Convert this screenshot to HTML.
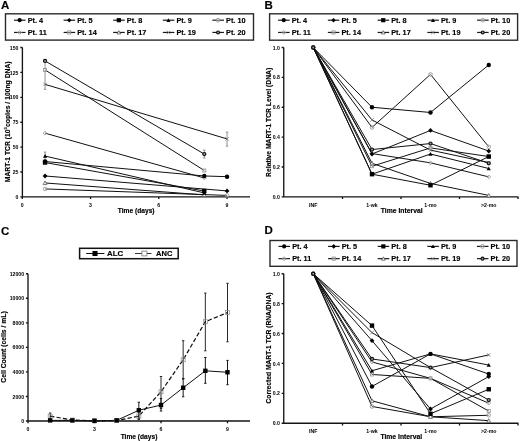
<!DOCTYPE html>
<html lang="en"><head><meta charset="utf-8"><title>Figure</title>
<style>html,body{margin:0;padding:0;background:#fff}body{width:520px;height:441px;overflow:hidden}svg{display:block;filter:blur(0.5px)}text{font-family:"Liberation Sans",sans-serif;font-weight:bold}</style>
</head><body>
<svg width="520" height="441" viewBox="0 0 520 441">
<rect width="520" height="441" fill="#fff"/>
<g id="panelA">
<text x="1.0" y="9.1" font-size="11.5" text-anchor="start"  fill="#000" stroke="#000" stroke-width="0.15" >A</text>
<rect x="5.5" y="13.8" width="248" height="26.3" fill="#fff" stroke="#2a2a2a" stroke-width="1.4"/>
<path d="M14.00 20.20H25.55" stroke="#1a1a1a" stroke-width="1.2" fill="none"/>
<circle cx="19.65" cy="20.2" r="2.09" fill="#000"/>
<text x="27.65" y="22.75" font-size="7.3" text-anchor="start"  fill="#000" stroke="#000" stroke-width="0.15" >Pt. 4</text>
<path d="M63.60 20.20H75.15" stroke="#1a1a1a" stroke-width="1.2" fill="none"/>
<path d="M66.97 20.2L69.25 17.92L71.53 20.2L69.25 22.48Z" fill="#000"/>
<text x="77.25" y="22.75" font-size="7.3" text-anchor="start"  fill="#000" stroke="#000" stroke-width="0.15" >Pt. 5</text>
<path d="M113.20 20.20H124.75" stroke="#1a1a1a" stroke-width="1.2" fill="none"/>
<rect x="116.76" y="18.11" width="4.18" height="4.18" fill="#000"/>
<text x="126.85" y="22.75" font-size="7.3" text-anchor="start"  fill="#000" stroke="#000" stroke-width="0.15" >Pt. 8</text>
<path d="M162.80 20.20H174.35" stroke="#1a1a1a" stroke-width="1.2" fill="none"/>
<path d="M166.45 21.90L168.45 18.20L170.44 21.90Z" fill="#000"/>
<text x="176.45" y="22.75" font-size="7.3" text-anchor="start"  fill="#000" stroke="#000" stroke-width="0.15" >Pt. 9</text>
<path d="M212.40 20.20H223.95" stroke="#1a1a1a" stroke-width="1.2" fill="none"/>
<circle cx="218.05" cy="20.2" r="1.89" fill="#fff" fill-opacity="0.35" stroke="#8c8c8c" stroke-width="0.8"/>
<text x="226.05" y="22.75" font-size="7.3" text-anchor="start"  fill="#000" stroke="#000" stroke-width="0.15" >Pt. 10</text>
<path d="M14.00 32.45H25.55" stroke="#1a1a1a" stroke-width="1.2" fill="none"/>
<path d="M17.65 32.45L19.65 30.46L21.64 32.45L19.65 34.45Z" fill="#fff" fill-opacity="0.35" stroke="#8c8c8c" stroke-width="0.8"/>
<text x="27.65" y="35.0" font-size="7.3" text-anchor="start"  fill="#000" stroke="#000" stroke-width="0.15" >Pt. 11</text>
<path d="M63.60 32.45H75.15" stroke="#1a1a1a" stroke-width="1.2" fill="none"/>
<rect x="67.67" y="30.88" width="3.15" height="3.15" fill="#fff" fill-opacity="0.35" stroke="#8c8c8c" stroke-width="0.8"/>
<text x="77.25" y="35.0" font-size="7.3" text-anchor="start"  fill="#000" stroke="#000" stroke-width="0.15" >Pt. 14</text>
<path d="M113.20 32.45H124.75" stroke="#1a1a1a" stroke-width="1.2" fill="none"/>
<path d="M117.04 33.98L118.85 30.65L120.66 33.98Z" fill="#fff" stroke="#555" stroke-width="0.8"/>
<text x="126.85" y="35.0" font-size="7.3" text-anchor="start"  fill="#000" stroke="#000" stroke-width="0.15" >Pt. 17</text>
<path d="M162.80 32.45H174.35" stroke="#1a1a1a" stroke-width="1.2" fill="none"/>
<path d="M166.66 30.67L170.23 34.23M166.66 34.23L170.23 30.67" fill="none" stroke="#777" stroke-width="0.8"/>
<text x="176.45" y="35.0" font-size="7.3" text-anchor="start"  fill="#000" stroke="#000" stroke-width="0.15" >Pt. 19</text>
<path d="M212.40 32.45H223.95" stroke="#1a1a1a" stroke-width="1.2" fill="none"/>
<circle cx="218.05" cy="32.45" r="1.47" fill="#999" stroke="#111" stroke-width="1.2"/>
<text x="226.05" y="35.0" font-size="7.3" text-anchor="start"  fill="#000" stroke="#000" stroke-width="0.15" >Pt. 20</text>
<path d="M22.4 47.5V196.9H250M20.299999999999997 196.9H22.4M20.299999999999997 172.0H22.4M20.299999999999997 147.10000000000002H22.4M20.299999999999997 122.2H22.4M20.299999999999997 97.30000000000001H22.4M20.299999999999997 72.4H22.4M20.299999999999997 47.5H22.4M22.3 196.9V199.1M90.55 196.9V199.1M158.8 196.9V199.1M227.05 196.9V199.1" stroke="#151515" stroke-width="1.35" fill="none"/>
<text x="18.5" y="199.0" font-size="5.2" text-anchor="end"  fill="#000" stroke="#000" stroke-width="0" >0</text>
<text x="18.5" y="174.1" font-size="5.2" text-anchor="end"  fill="#000" stroke="#000" stroke-width="0" >25</text>
<text x="18.5" y="149.2" font-size="5.2" text-anchor="end"  fill="#000" stroke="#000" stroke-width="0" >50</text>
<text x="18.5" y="124.3" font-size="5.2" text-anchor="end"  fill="#000" stroke="#000" stroke-width="0" >75</text>
<text x="18.5" y="99.4" font-size="5.2" text-anchor="end"  fill="#000" stroke="#000" stroke-width="0" >100</text>
<text x="18.5" y="74.5" font-size="5.2" text-anchor="end"  fill="#000" stroke="#000" stroke-width="0" >125</text>
<text x="18.5" y="49.6" font-size="5.2" text-anchor="end"  fill="#000" stroke="#000" stroke-width="0" >150</text>
<text x="22.3" y="206.6" font-size="5.2" text-anchor="middle"  fill="#000" stroke="#000" stroke-width="0" >0</text>
<text x="90.55" y="206.6" font-size="5.2" text-anchor="middle"  fill="#000" stroke="#000" stroke-width="0" >3</text>
<text x="158.8" y="206.6" font-size="5.2" text-anchor="middle"  fill="#000" stroke="#000" stroke-width="0" >6</text>
<text x="227.05" y="206.6" font-size="5.2" text-anchor="middle"  fill="#000" stroke="#000" stroke-width="0" >9</text>
<text x="136.2" y="212.6" font-size="6.6" text-anchor="middle"  fill="#000" stroke="#000" stroke-width="0.15" textLength="36.7" lengthAdjust="spacingAndGlyphs">Time (days)</text>
<text transform="translate(9.5,121.8) rotate(-90)" font-size="6.7" text-anchor="middle"  fill="#000" stroke="#000" stroke-width="0.15" textLength="120.8" lengthAdjust="spacingAndGlyphs">MART-1 TCR (10<tspan font-size="4.2" dy="-2.4">5</tspan><tspan dy="2.4">copies / 100ng DNA)</tspan></text>
<path d="M45.05 188.93L227.05 195.41" stroke="#111" stroke-width="1.0" fill="none"/>
<path d="M45.05 182.96L204.30 194.91" stroke="#111" stroke-width="1.0" fill="none"/>
<path d="M45.05 133.16L204.30 177.98" stroke="#111" stroke-width="1.0" fill="none"/>
<path d="M45.05 69.91L204.30 170.51" stroke="#111" stroke-width="1.0" fill="none"/>
<path d="M45.05 84.35L227.05 138.93" stroke="#111" stroke-width="1.0" fill="none"/>
<path d="M45.05 175.98L227.05 190.92" stroke="#111" stroke-width="1.0" fill="none"/>
<path d="M45.05 156.06L204.30 192.92" stroke="#111" stroke-width="1.0" fill="none"/>
<path d="M45.05 162.54L204.30 191.02" stroke="#111" stroke-width="1.0" fill="none"/>
<path d="M45.05 161.54L204.30 175.98L227.05 176.68" stroke="#111" stroke-width="1.0" fill="none"/>
<path d="M45.05 60.95L204.30 154.07" stroke="#111" stroke-width="1.0" fill="none"/>
<path d="M45.05 59.45V89.33M43.85 59.45h2.4M43.85 89.33h2.4" stroke="#777" stroke-width="0.8" fill="none"/>
<path d="M45.05 152.08V160.05M43.85 152.08h2.4M43.85 160.05h2.4" stroke="#777" stroke-width="0.8" fill="none"/>
<path d="M204.30 150.09V158.06M203.10 150.09h2.4M203.10 158.06h2.4" stroke="#777" stroke-width="0.8" fill="none"/>
<path d="M227.05 132.16V146.10M225.85 132.16h2.4M225.85 146.10h2.4" stroke="#777" stroke-width="0.8" fill="none"/>
<circle cx="45.05" cy="188.93" r="1.80" fill="#fff" fill-opacity="0.35" stroke="#8c8c8c" stroke-width="0.8"/>
<circle cx="227.05" cy="195.41" r="1.80" fill="#fff" fill-opacity="0.35" stroke="#8c8c8c" stroke-width="0.8"/>
<path d="M43.15 184.58L45.05 181.06L46.95 184.58Z" fill="#fff" stroke="#555" stroke-width="0.8"/>
<path d="M202.40 196.53L204.3 193.01L206.20 196.53Z" fill="#fff" stroke="#555" stroke-width="0.8"/>
<path d="M43.15 133.16L45.05 131.26L46.95 133.16L45.05 135.06Z" fill="#fff" fill-opacity="0.35" stroke="#8c8c8c" stroke-width="0.8"/>
<path d="M202.40 177.98L204.3 176.08L206.20 177.98L204.3 179.88Z" fill="#fff" fill-opacity="0.35" stroke="#8c8c8c" stroke-width="0.8"/>
<rect x="43.55" y="68.41" width="3.00" height="3.00" fill="#fff" fill-opacity="0.35" stroke="#8c8c8c" stroke-width="0.8"/>
<rect x="202.80" y="169.01" width="3.00" height="3.00" fill="#fff" fill-opacity="0.35" stroke="#8c8c8c" stroke-width="0.8"/>
<path d="M43.35 82.65L46.75 86.05M43.35 86.05L46.75 82.65" fill="none" stroke="#777" stroke-width="0.8"/>
<path d="M225.35 137.23L228.75 140.63M225.35 140.63L228.75 137.23" fill="none" stroke="#777" stroke-width="0.8"/>
<path d="M42.65 175.98L45.05 173.58L47.45 175.98L45.05 178.38Z" fill="#000"/>
<path d="M224.65 190.92L227.05 188.52L229.45 190.92L227.05 193.32Z" fill="#000"/>
<path d="M42.95 157.84L45.05 153.96L47.15 157.84Z" fill="#000"/>
<path d="M202.20 194.70L204.3 190.82L206.40 194.70Z" fill="#000"/>
<rect x="42.85" y="160.34" width="4.40" height="4.40" fill="#000"/>
<rect x="202.10" y="188.82" width="4.40" height="4.40" fill="#000"/>
<circle cx="45.05" cy="161.54" r="2.20" fill="#000"/>
<circle cx="204.3" cy="175.98" r="2.20" fill="#000"/>
<circle cx="227.05" cy="176.68" r="2.20" fill="#000"/>
<circle cx="45.05" cy="60.95" r="1.55" fill="#999" stroke="#111" stroke-width="1.2"/>
<circle cx="204.3" cy="154.07" r="1.55" fill="#999" stroke="#111" stroke-width="1.2"/>
</g>
<g id="panelB">
<text x="264.6" y="9.1" font-size="11.5" text-anchor="start"  fill="#000" stroke="#000" stroke-width="0.15" >B</text>
<rect x="269.6" y="13.8" width="248" height="26.4" fill="#fff" stroke="#2a2a2a" stroke-width="1.4"/>
<path d="M278.10 20.20H289.65" stroke="#1a1a1a" stroke-width="1.2" fill="none"/>
<circle cx="283.75" cy="20.2" r="2.09" fill="#000"/>
<text x="291.75" y="22.75" font-size="7.3" text-anchor="start"  fill="#000" stroke="#000" stroke-width="0.15" >Pt. 4</text>
<path d="M327.85 20.20H339.40" stroke="#1a1a1a" stroke-width="1.2" fill="none"/>
<path d="M331.22 20.2L333.5 17.92L335.78 20.2L333.5 22.48Z" fill="#000"/>
<text x="341.5" y="22.75" font-size="7.3" text-anchor="start"  fill="#000" stroke="#000" stroke-width="0.15" >Pt. 5</text>
<path d="M377.60 20.20H389.15" stroke="#1a1a1a" stroke-width="1.2" fill="none"/>
<rect x="381.16" y="18.11" width="4.18" height="4.18" fill="#000"/>
<text x="391.25" y="22.75" font-size="7.3" text-anchor="start"  fill="#000" stroke="#000" stroke-width="0.15" >Pt. 8</text>
<path d="M427.35 20.20H438.90" stroke="#1a1a1a" stroke-width="1.2" fill="none"/>
<path d="M431.00 21.90L433.0 18.20L435.00 21.90Z" fill="#000"/>
<text x="441.0" y="22.75" font-size="7.3" text-anchor="start"  fill="#000" stroke="#000" stroke-width="0.15" >Pt. 9</text>
<path d="M477.10 20.20H488.65" stroke="#1a1a1a" stroke-width="1.2" fill="none"/>
<circle cx="482.75" cy="20.2" r="1.89" fill="#fff" fill-opacity="0.35" stroke="#8c8c8c" stroke-width="0.8"/>
<text x="490.75" y="22.75" font-size="7.3" text-anchor="start"  fill="#000" stroke="#000" stroke-width="0.15" >Pt. 10</text>
<path d="M278.10 32.45H289.65" stroke="#1a1a1a" stroke-width="1.2" fill="none"/>
<path d="M281.75 32.45L283.75 30.46L285.75 32.45L283.75 34.45Z" fill="#fff" fill-opacity="0.35" stroke="#8c8c8c" stroke-width="0.8"/>
<text x="291.75" y="35.0" font-size="7.3" text-anchor="start"  fill="#000" stroke="#000" stroke-width="0.15" >Pt. 11</text>
<path d="M327.85 32.45H339.40" stroke="#1a1a1a" stroke-width="1.2" fill="none"/>
<rect x="331.93" y="30.88" width="3.15" height="3.15" fill="#fff" fill-opacity="0.35" stroke="#8c8c8c" stroke-width="0.8"/>
<text x="341.5" y="35.0" font-size="7.3" text-anchor="start"  fill="#000" stroke="#000" stroke-width="0.15" >Pt. 14</text>
<path d="M377.60 32.45H389.15" stroke="#1a1a1a" stroke-width="1.2" fill="none"/>
<path d="M381.44 33.98L383.25 30.65L385.06 33.98Z" fill="#fff" stroke="#555" stroke-width="0.8"/>
<text x="391.25" y="35.0" font-size="7.3" text-anchor="start"  fill="#000" stroke="#000" stroke-width="0.15" >Pt. 17</text>
<path d="M427.35 32.45H438.90" stroke="#1a1a1a" stroke-width="1.2" fill="none"/>
<path d="M431.21 30.67L434.79 34.23M431.21 34.23L434.79 30.67" fill="none" stroke="#777" stroke-width="0.8"/>
<text x="441.0" y="35.0" font-size="7.3" text-anchor="start"  fill="#000" stroke="#000" stroke-width="0.15" >Pt. 19</text>
<path d="M477.10 32.45H488.65" stroke="#1a1a1a" stroke-width="1.2" fill="none"/>
<circle cx="482.75" cy="32.45" r="1.47" fill="#999" stroke="#111" stroke-width="1.2"/>
<text x="490.75" y="35.0" font-size="7.3" text-anchor="start"  fill="#000" stroke="#000" stroke-width="0.15" >Pt. 20</text>
<path d="M283.75 47.5V196.9H518.5M281.65 196.9H283.75M281.65 167.02H283.75M281.65 137.14H283.75M281.65 107.26H283.75M281.65 77.38H283.75M281.65 47.5H283.75M342.5 196.9V199.1M401 196.9V199.1M459.5 196.9V199.1M518 196.9V199.1" stroke="#151515" stroke-width="1.35" fill="none"/>
<text x="279.85" y="199.0" font-size="5.2" text-anchor="end"  fill="#000" stroke="#000" stroke-width="0" >0.0</text>
<text x="279.85" y="169.12" font-size="5.2" text-anchor="end"  fill="#000" stroke="#000" stroke-width="0" >0.2</text>
<text x="279.85" y="139.24" font-size="5.2" text-anchor="end"  fill="#000" stroke="#000" stroke-width="0" >0.4</text>
<text x="279.85" y="109.36" font-size="5.2" text-anchor="end"  fill="#000" stroke="#000" stroke-width="0" >0.6</text>
<text x="279.85" y="79.48" font-size="5.2" text-anchor="end"  fill="#000" stroke="#000" stroke-width="0" >0.8</text>
<text x="279.85" y="49.6" font-size="5.2" text-anchor="end"  fill="#000" stroke="#000" stroke-width="0" >1.0</text>
<text x="313.25" y="206.6" font-size="5.2" text-anchor="middle"  fill="#000" stroke="#000" stroke-width="0" >INF</text>
<text x="372.0" y="206.6" font-size="5.2" text-anchor="middle"  fill="#000" stroke="#000" stroke-width="0" >1-wk</text>
<text x="430.5" y="206.6" font-size="5.2" text-anchor="middle"  fill="#000" stroke="#000" stroke-width="0" >1-mo</text>
<text x="488.75" y="206.6" font-size="5.2" text-anchor="middle"  fill="#000" stroke="#000" stroke-width="0" >&gt;2-mo</text>
<text x="401.7" y="212.8" font-size="6.6" text-anchor="middle"  fill="#000" stroke="#000" stroke-width="0.15" textLength="41.8" lengthAdjust="spacingAndGlyphs">Time Interval</text>
<text transform="translate(270.9,122.35) rotate(-90)" font-size="6.7" text-anchor="middle"  fill="#000" stroke="#000" stroke-width="0.15" textLength="109.1" lengthAdjust="spacingAndGlyphs">Relative MART-1 TCR Level (DNA)</text>
<path d="M313.25 47.50L372.00 119.96L430.50 150.14L488.75 162.54" stroke="#111" stroke-width="1.0" fill="none"/>
<path d="M313.25 47.50L372.00 163.28L430.50 183.45L488.75 195.41" stroke="#111" stroke-width="1.0" fill="none"/>
<path d="M313.25 47.50L372.00 166.27L430.50 147.90L488.75 156.56" stroke="#111" stroke-width="1.0" fill="none"/>
<path d="M313.25 47.50L372.00 153.57L430.50 162.84L488.75 176.88" stroke="#111" stroke-width="1.0" fill="none"/>
<path d="M313.25 47.50L372.00 127.43L430.50 74.39L488.75 146.85" stroke="#111" stroke-width="1.0" fill="none"/>
<path d="M313.25 47.50L372.00 174.19L430.50 154.02L488.75 168.51" stroke="#111" stroke-width="1.0" fill="none"/>
<path d="M313.25 47.50L372.00 154.02L430.50 130.42L488.75 151.03" stroke="#111" stroke-width="1.0" fill="none"/>
<path d="M313.25 47.50L372.00 174.19L430.50 185.25L488.75 156.56" stroke="#111" stroke-width="1.0" fill="none"/>
<path d="M313.25 47.50L372.00 107.26L430.50 112.49L488.75 64.98" stroke="#111" stroke-width="1.0" fill="none"/>
<path d="M313.25 47.50L372.00 149.54L430.50 143.56L488.75 163.28" stroke="#111" stroke-width="1.0" fill="none"/>
<path d="M370.30 118.26L373.70 121.66M370.30 121.66L373.70 118.26" fill="none" stroke="#777" stroke-width="0.8"/>
<path d="M428.80 148.44L432.20 151.84M428.80 151.84L432.20 148.44" fill="none" stroke="#777" stroke-width="0.8"/>
<path d="M487.05 160.84L490.45 164.24M487.05 164.24L490.45 160.84" fill="none" stroke="#777" stroke-width="0.8"/>
<path d="M370.10 164.90L372.0 161.38L373.90 164.90Z" fill="#fff" stroke="#555" stroke-width="0.8"/>
<path d="M428.60 185.06L430.5 181.55L432.40 185.06Z" fill="#fff" stroke="#555" stroke-width="0.8"/>
<path d="M486.85 197.03L488.75 193.51L490.65 197.03Z" fill="#fff" stroke="#555" stroke-width="0.8"/>
<rect x="370.50" y="164.77" width="3.00" height="3.00" fill="#fff" fill-opacity="0.35" stroke="#8c8c8c" stroke-width="0.8"/>
<rect x="429.00" y="146.40" width="3.00" height="3.00" fill="#fff" fill-opacity="0.35" stroke="#8c8c8c" stroke-width="0.8"/>
<rect x="487.25" y="155.06" width="3.00" height="3.00" fill="#fff" fill-opacity="0.35" stroke="#8c8c8c" stroke-width="0.8"/>
<path d="M370.10 153.57L372.0 151.67L373.90 153.57L372.0 155.47Z" fill="#fff" fill-opacity="0.35" stroke="#8c8c8c" stroke-width="0.8"/>
<path d="M428.60 162.84L430.5 160.94L432.40 162.84L430.5 164.74Z" fill="#fff" fill-opacity="0.35" stroke="#8c8c8c" stroke-width="0.8"/>
<path d="M486.85 176.88L488.75 174.98L490.65 176.88L488.75 178.78Z" fill="#fff" fill-opacity="0.35" stroke="#8c8c8c" stroke-width="0.8"/>
<circle cx="372.0" cy="127.43" r="1.80" fill="#fff" fill-opacity="0.35" stroke="#8c8c8c" stroke-width="0.8"/>
<circle cx="430.5" cy="74.39" r="1.80" fill="#fff" fill-opacity="0.35" stroke="#8c8c8c" stroke-width="0.8"/>
<circle cx="488.75" cy="146.85" r="1.80" fill="#fff" fill-opacity="0.35" stroke="#8c8c8c" stroke-width="0.8"/>
<path d="M369.90 175.97L372.0 172.09L374.10 175.97Z" fill="#000"/>
<path d="M428.40 155.81L430.5 151.92L432.60 155.81Z" fill="#000"/>
<path d="M486.65 170.29L488.75 166.41L490.85 170.29Z" fill="#000"/>
<path d="M369.60 154.02L372.0 151.62L374.40 154.02L372.0 156.42Z" fill="#000"/>
<path d="M428.10 130.42L430.5 128.02L432.90 130.42L430.5 132.82Z" fill="#000"/>
<path d="M486.35 151.03L488.75 148.63L491.15 151.03L488.75 153.43Z" fill="#000"/>
<rect x="369.80" y="171.99" width="4.40" height="4.40" fill="#000"/>
<rect x="428.30" y="183.05" width="4.40" height="4.40" fill="#000"/>
<rect x="486.55" y="154.36" width="4.40" height="4.40" fill="#000"/>
<circle cx="313.25" cy="47.5" r="2.20" fill="#000"/>
<circle cx="372.0" cy="107.26" r="2.20" fill="#000"/>
<circle cx="430.5" cy="112.49" r="2.20" fill="#000"/>
<circle cx="488.75" cy="64.98" r="2.20" fill="#000"/>
<circle cx="313.25" cy="47.5" r="1.55" fill="#999" stroke="#111" stroke-width="1.2"/>
<circle cx="372.0" cy="149.54" r="1.55" fill="#999" stroke="#111" stroke-width="1.2"/>
<circle cx="430.5" cy="143.56" r="1.55" fill="#999" stroke="#111" stroke-width="1.2"/>
<circle cx="488.75" cy="163.28" r="1.55" fill="#999" stroke="#111" stroke-width="1.2"/>
</g>
<g id="panelC">
<text x="1.0" y="234.6" font-size="11.5" text-anchor="start"  fill="#000" stroke="#000" stroke-width="0.15" >C</text>
<rect x="79.6" y="248.3" width="98.6" height="10.4" fill="#fff" stroke="#111" stroke-width="1.5"/>
<path d="M86.2 253.5H104.4" stroke="#111" stroke-width="1"/>
<rect x="92.47" y="250.97" width="5.06" height="5.06" fill="#000"/>
<text x="107.1" y="256.3" font-size="8" text-anchor="start"  fill="#000" stroke="#000" stroke-width="0.15" textLength="16.2" lengthAdjust="spacingAndGlyphs">ALC</text>
<path d="M135 253.5H151.5" stroke="#333" stroke-width="1"/>
<rect x="141.9" y="251.1" width="5" height="4.8" fill="#fff" stroke="#777" stroke-width="0.8"/>
<text x="156.1" y="256.3" font-size="8" text-anchor="start"  fill="#000" stroke="#000" stroke-width="0.15" textLength="16.4" lengthAdjust="spacingAndGlyphs">ANC</text>
<path d="M28.0 273.75V421.0H250M25.9 421.0H28.0M25.9 396.46H28.0M25.9 371.92H28.0M25.9 347.38H28.0M25.9 322.83H28.0M25.9 298.29H28.0M25.9 273.75H28.0M28.0 421.0V423.2M94.5 421.0V423.2M161.0 421.0V423.2M227.5 421.0V423.2" stroke="#151515" stroke-width="1.35" fill="none"/>
<text x="24.1" y="423.1" font-size="5.2" text-anchor="end"  fill="#000" stroke="#000" stroke-width="0" >0</text>
<text x="24.1" y="398.56" font-size="5.2" text-anchor="end"  fill="#000" stroke="#000" stroke-width="0" >2000</text>
<text x="24.1" y="374.02" font-size="5.2" text-anchor="end"  fill="#000" stroke="#000" stroke-width="0" >4000</text>
<text x="24.1" y="349.48" font-size="5.2" text-anchor="end"  fill="#000" stroke="#000" stroke-width="0" >6000</text>
<text x="24.1" y="324.93" font-size="5.2" text-anchor="end"  fill="#000" stroke="#000" stroke-width="0" >8000</text>
<text x="24.1" y="300.39" font-size="5.2" text-anchor="end"  fill="#000" stroke="#000" stroke-width="0" >10000</text>
<text x="24.1" y="275.85" font-size="5.2" text-anchor="end"  fill="#000" stroke="#000" stroke-width="0" >12000</text>
<text x="28.0" y="430.7" font-size="5.2" text-anchor="middle"  fill="#000" stroke="#000" stroke-width="0" >0</text>
<text x="94.5" y="430.7" font-size="5.2" text-anchor="middle"  fill="#000" stroke="#000" stroke-width="0" >3</text>
<text x="161.0" y="430.7" font-size="5.2" text-anchor="middle"  fill="#000" stroke="#000" stroke-width="0" >6</text>
<text x="227.5" y="430.7" font-size="5.2" text-anchor="middle"  fill="#000" stroke="#000" stroke-width="0" >9</text>
<text x="139.0" y="438.7" font-size="6.6" text-anchor="middle"  fill="#000" stroke="#000" stroke-width="0.15" textLength="36.7" lengthAdjust="spacingAndGlyphs">Time (days)</text>
<text transform="translate(6.3,347) rotate(-90)" font-size="6.7" text-anchor="middle"  fill="#000" stroke="#000" stroke-width="0.15" textLength="71.3" lengthAdjust="spacingAndGlyphs">Cell Count (cells / mL)</text>
<path d="M50.17 413.00V419.00M48.97 413.00h2.4M48.97 419.00h2.4" stroke="#2a2a2a" stroke-width="1.0" fill="none"/>
<path d="M138.83 411.00V419.50M137.63 411.00h2.4M137.63 419.50h2.4" stroke="#2a2a2a" stroke-width="1.0" fill="none"/>
<path d="M161.00 376.50V408.50M159.80 376.50h2.4M159.80 408.50h2.4" stroke="#2a2a2a" stroke-width="1.0" fill="none"/>
<path d="M183.17 340.70V379.00M181.97 340.70h2.4M181.97 379.00h2.4" stroke="#2a2a2a" stroke-width="1.0" fill="none"/>
<path d="M205.33 293.10V350.80M204.13 293.10h2.4M204.13 350.80h2.4" stroke="#2a2a2a" stroke-width="1.0" fill="none"/>
<path d="M227.50 283.30V341.80M226.30 283.30h2.4M226.30 341.80h2.4" stroke="#2a2a2a" stroke-width="1.0" fill="none"/>
<path d="M138.83 402.25V418.50M137.63 402.25h2.4M137.63 418.50h2.4" stroke="#1a1a1a" stroke-width="1.0" fill="none"/>
<path d="M161.00 398.50V411.00M159.80 398.50h2.4M159.80 411.00h2.4" stroke="#1a1a1a" stroke-width="1.0" fill="none"/>
<path d="M183.17 378.50V396.75M181.97 378.50h2.4M181.97 396.75h2.4" stroke="#1a1a1a" stroke-width="1.0" fill="none"/>
<path d="M205.33 357.50V383.30M204.13 357.50h2.4M204.13 383.30h2.4" stroke="#1a1a1a" stroke-width="1.0" fill="none"/>
<path d="M227.50 360.40V384.70M226.30 360.40h2.4M226.30 384.70h2.4" stroke="#1a1a1a" stroke-width="1.0" fill="none"/>
<path d="M50.17 416.09L72.33 420.02L94.50 420.88L116.67 420.63L138.83 416.09L161.00 391.80L183.17 359.77L205.33 321.73L227.50 312.53" stroke="#0a0a0a" stroke-width="1.2" fill="none" stroke-dasharray="4.3 2.2"/>
<path d="M50.17 420.39L72.33 420.39L94.50 420.75L116.67 420.39L138.83 410.26L161.00 405.05L183.17 387.75L205.33 370.81L227.50 372.28" stroke="#111" stroke-width="1.0" fill="none"/>
<rect x="48.17" y="414.09" width="4" height="4" fill="none" stroke="#8a8a8a" stroke-width="0.7"/>
<rect x="70.33" y="418.02" width="4" height="4" fill="none" stroke="#8a8a8a" stroke-width="0.7"/>
<rect x="92.50" y="418.88" width="4" height="4" fill="none" stroke="#8a8a8a" stroke-width="0.7"/>
<rect x="114.67" y="418.63" width="4" height="4" fill="none" stroke="#8a8a8a" stroke-width="0.7"/>
<rect x="136.83" y="414.09" width="4" height="4" fill="none" stroke="#8a8a8a" stroke-width="0.7"/>
<rect x="159.00" y="389.80" width="4" height="4" fill="none" stroke="#8a8a8a" stroke-width="0.7"/>
<rect x="181.17" y="357.77" width="4" height="4" fill="none" stroke="#8a8a8a" stroke-width="0.7"/>
<rect x="203.33" y="319.73" width="4" height="4" fill="none" stroke="#8a8a8a" stroke-width="0.7"/>
<rect x="225.50" y="310.53" width="4" height="4" fill="none" stroke="#8a8a8a" stroke-width="0.7"/>
<rect x="47.97" y="418.19" width="4.40" height="4.40" fill="#000"/>
<rect x="70.13" y="418.19" width="4.40" height="4.40" fill="#000"/>
<rect x="92.30" y="418.55" width="4.40" height="4.40" fill="#000"/>
<rect x="114.47" y="418.19" width="4.40" height="4.40" fill="#000"/>
<rect x="136.63" y="408.06" width="4.40" height="4.40" fill="#000"/>
<rect x="158.80" y="402.85" width="4.40" height="4.40" fill="#000"/>
<rect x="180.97" y="385.55" width="4.40" height="4.40" fill="#000"/>
<rect x="203.13" y="368.61" width="4.40" height="4.40" fill="#000"/>
<rect x="225.30" y="370.08" width="4.40" height="4.40" fill="#000"/>
</g>
<g id="panelD">
<text x="264.6" y="234.4" font-size="11.5" text-anchor="start"  fill="#000" stroke="#000" stroke-width="0.15" >D</text>
<rect x="270" y="240.5" width="247" height="25.8" fill="#fff" stroke="#2a2a2a" stroke-width="1.4"/>
<path d="M278.50 246.40H290.05" stroke="#1a1a1a" stroke-width="1.2" fill="none"/>
<circle cx="284.15" cy="246.4" r="2.09" fill="#000"/>
<text x="292.15" y="248.95" font-size="7.3" text-anchor="start"  fill="#000" stroke="#000" stroke-width="0.15" >Pt. 4</text>
<path d="M328.10 246.40H339.65" stroke="#1a1a1a" stroke-width="1.2" fill="none"/>
<path d="M331.47 246.4L333.75 244.12L336.03 246.4L333.75 248.68Z" fill="#000"/>
<text x="341.75" y="248.95" font-size="7.3" text-anchor="start"  fill="#000" stroke="#000" stroke-width="0.15" >Pt. 5</text>
<path d="M377.70 246.40H389.25" stroke="#1a1a1a" stroke-width="1.2" fill="none"/>
<rect x="381.26" y="244.31" width="4.18" height="4.18" fill="#000"/>
<text x="391.35" y="248.95" font-size="7.3" text-anchor="start"  fill="#000" stroke="#000" stroke-width="0.15" >Pt. 8</text>
<path d="M427.30 246.40H438.85" stroke="#1a1a1a" stroke-width="1.2" fill="none"/>
<path d="M430.95 248.10L432.95 244.41L434.94 248.10Z" fill="#000"/>
<text x="440.95" y="248.95" font-size="7.3" text-anchor="start"  fill="#000" stroke="#000" stroke-width="0.15" >Pt. 9</text>
<path d="M476.90 246.40H488.45" stroke="#1a1a1a" stroke-width="1.2" fill="none"/>
<circle cx="482.55" cy="246.4" r="1.89" fill="#fff" fill-opacity="0.35" stroke="#8c8c8c" stroke-width="0.8"/>
<text x="490.55" y="248.95" font-size="7.3" text-anchor="start"  fill="#000" stroke="#000" stroke-width="0.15" >Pt. 10</text>
<path d="M278.50 258.65H290.05" stroke="#1a1a1a" stroke-width="1.2" fill="none"/>
<path d="M282.15 258.65L284.15 256.65L286.14 258.65L284.15 260.64Z" fill="#fff" fill-opacity="0.35" stroke="#8c8c8c" stroke-width="0.8"/>
<text x="292.15" y="261.2" font-size="7.3" text-anchor="start"  fill="#000" stroke="#000" stroke-width="0.15" >Pt. 11</text>
<path d="M328.10 258.65H339.65" stroke="#1a1a1a" stroke-width="1.2" fill="none"/>
<rect x="332.18" y="257.07" width="3.15" height="3.15" fill="#fff" fill-opacity="0.35" stroke="#8c8c8c" stroke-width="0.8"/>
<text x="341.75" y="261.2" font-size="7.3" text-anchor="start"  fill="#000" stroke="#000" stroke-width="0.15" >Pt. 14</text>
<path d="M377.70 258.65H389.25" stroke="#1a1a1a" stroke-width="1.2" fill="none"/>
<path d="M381.55 260.18L383.35 256.84L385.16 260.18Z" fill="#fff" stroke="#555" stroke-width="0.8"/>
<text x="391.35" y="261.2" font-size="7.3" text-anchor="start"  fill="#000" stroke="#000" stroke-width="0.15" >Pt. 17</text>
<path d="M427.30 258.65H438.85" stroke="#1a1a1a" stroke-width="1.2" fill="none"/>
<path d="M431.16 256.86L434.74 260.44M431.16 260.44L434.74 256.86" fill="none" stroke="#777" stroke-width="0.8"/>
<text x="440.95" y="261.2" font-size="7.3" text-anchor="start"  fill="#000" stroke="#000" stroke-width="0.15" >Pt. 19</text>
<path d="M476.90 258.65H488.45" stroke="#1a1a1a" stroke-width="1.2" fill="none"/>
<circle cx="482.55" cy="258.65" r="1.47" fill="#999" stroke="#111" stroke-width="1.2"/>
<text x="490.55" y="261.2" font-size="7.3" text-anchor="start"  fill="#000" stroke="#000" stroke-width="0.15" >Pt. 20</text>
<path d="M283.75 273.75V423.2H518.5M281.65 423.2H283.75M281.65 393.31H283.75M281.65 363.42H283.75M281.65 333.53H283.75M281.65 303.64H283.75M281.65 273.75H283.75M342.5 423.2V425.4M401 423.2V425.4M459.5 423.2V425.4M518 423.2V425.4" stroke="#151515" stroke-width="1.35" fill="none"/>
<text x="279.85" y="425.3" font-size="5.2" text-anchor="end"  fill="#000" stroke="#000" stroke-width="0" >0.0</text>
<text x="279.85" y="395.41" font-size="5.2" text-anchor="end"  fill="#000" stroke="#000" stroke-width="0" >0.2</text>
<text x="279.85" y="365.52" font-size="5.2" text-anchor="end"  fill="#000" stroke="#000" stroke-width="0" >0.4</text>
<text x="279.85" y="335.63" font-size="5.2" text-anchor="end"  fill="#000" stroke="#000" stroke-width="0" >0.6</text>
<text x="279.85" y="305.74" font-size="5.2" text-anchor="end"  fill="#000" stroke="#000" stroke-width="0" >0.8</text>
<text x="279.85" y="275.85" font-size="5.2" text-anchor="end"  fill="#000" stroke="#000" stroke-width="0" >1.0</text>
<text x="313.25" y="432.9" font-size="5.2" text-anchor="middle"  fill="#000" stroke="#000" stroke-width="0" >INF</text>
<text x="372.0" y="432.9" font-size="5.2" text-anchor="middle"  fill="#000" stroke="#000" stroke-width="0" >1-wk</text>
<text x="430.5" y="432.9" font-size="5.2" text-anchor="middle"  fill="#000" stroke="#000" stroke-width="0" >1-mo</text>
<text x="488.75" y="432.9" font-size="5.2" text-anchor="middle"  fill="#000" stroke="#000" stroke-width="0" >&gt;2-mo</text>
<text x="401.3" y="439.0" font-size="6.6" text-anchor="middle"  fill="#000" stroke="#000" stroke-width="0.15" textLength="41.8" lengthAdjust="spacingAndGlyphs">Time Interval</text>
<text transform="translate(271.2,348.0) rotate(-90)" font-size="6.7" text-anchor="middle"  fill="#000" stroke="#000" stroke-width="0.15" textLength="111.0" lengthAdjust="spacingAndGlyphs">Corrected MART-1 TCR (RNA/DNA)</text>
<path d="M313.25 273.75L372.00 332.63L430.50 367.60L488.75 354.90" stroke="#111" stroke-width="1.0" fill="none"/>
<path d="M313.25 273.75L372.00 400.78L430.50 416.77L488.75 420.66" stroke="#111" stroke-width="1.0" fill="none"/>
<path d="M313.25 273.75L372.00 374.48L430.50 378.37L488.75 411.09" stroke="#111" stroke-width="1.0" fill="none"/>
<path d="M313.25 273.75L372.00 361.93L430.50 378.37L488.75 403.17" stroke="#111" stroke-width="1.0" fill="none"/>
<path d="M313.25 273.75L372.00 406.46L430.50 416.77L488.75 415.28" stroke="#111" stroke-width="1.0" fill="none"/>
<path d="M313.25 273.75L372.00 370.74L430.50 353.86L488.75 365.06" stroke="#111" stroke-width="1.0" fill="none"/>
<path d="M313.25 273.75L372.00 340.70L430.50 409.00L488.75 376.57" stroke="#111" stroke-width="1.0" fill="none"/>
<path d="M313.25 273.75L372.00 325.61L430.50 413.78L488.75 389.27" stroke="#111" stroke-width="1.0" fill="none"/>
<path d="M313.25 273.75L372.00 386.44L430.50 353.86L488.75 374.03" stroke="#111" stroke-width="1.0" fill="none"/>
<path d="M313.25 273.75L372.00 358.94L430.50 367.60L488.75 400.04" stroke="#111" stroke-width="1.0" fill="none"/>
<path d="M370.30 330.93L373.70 334.33M370.30 334.33L373.70 330.93" fill="none" stroke="#777" stroke-width="0.8"/>
<path d="M428.80 365.90L432.20 369.30M428.80 369.30L432.20 365.90" fill="none" stroke="#777" stroke-width="0.8"/>
<path d="M487.05 353.20L490.45 356.60M487.05 356.60L490.45 353.20" fill="none" stroke="#777" stroke-width="0.8"/>
<path d="M370.10 402.39L372.0 398.88L373.90 402.39Z" fill="#fff" stroke="#555" stroke-width="0.8"/>
<path d="M428.60 418.38L430.5 414.87L432.40 418.38Z" fill="#fff" stroke="#555" stroke-width="0.8"/>
<path d="M486.85 422.28L488.75 418.76L490.65 422.28Z" fill="#fff" stroke="#555" stroke-width="0.8"/>
<rect x="370.50" y="372.98" width="3.00" height="3.00" fill="#fff" fill-opacity="0.35" stroke="#8c8c8c" stroke-width="0.8"/>
<rect x="429.00" y="376.87" width="3.00" height="3.00" fill="#fff" fill-opacity="0.35" stroke="#8c8c8c" stroke-width="0.8"/>
<rect x="487.25" y="409.59" width="3.00" height="3.00" fill="#fff" fill-opacity="0.35" stroke="#8c8c8c" stroke-width="0.8"/>
<path d="M370.10 361.93L372.0 360.03L373.90 361.93L372.0 363.83Z" fill="#fff" fill-opacity="0.35" stroke="#8c8c8c" stroke-width="0.8"/>
<path d="M428.60 378.37L430.5 376.47L432.40 378.37L430.5 380.27Z" fill="#fff" fill-opacity="0.35" stroke="#8c8c8c" stroke-width="0.8"/>
<path d="M486.85 403.17L488.75 401.27L490.65 403.17L488.75 405.07Z" fill="#fff" fill-opacity="0.35" stroke="#8c8c8c" stroke-width="0.8"/>
<circle cx="372.0" cy="406.46" r="1.80" fill="#fff" fill-opacity="0.35" stroke="#8c8c8c" stroke-width="0.8"/>
<circle cx="430.5" cy="416.77" r="1.80" fill="#fff" fill-opacity="0.35" stroke="#8c8c8c" stroke-width="0.8"/>
<circle cx="488.75" cy="415.28" r="1.80" fill="#fff" fill-opacity="0.35" stroke="#8c8c8c" stroke-width="0.8"/>
<path d="M369.90 372.53L372.0 368.64L374.10 372.53Z" fill="#000"/>
<path d="M428.40 355.65L430.5 351.76L432.60 355.65Z" fill="#000"/>
<path d="M486.65 366.85L488.75 362.96L490.85 366.85Z" fill="#000"/>
<path d="M369.60 340.7L372.0 338.30L374.40 340.7L372.0 343.10Z" fill="#000"/>
<path d="M428.10 409.0L430.5 406.60L432.90 409.0L430.5 411.40Z" fill="#000"/>
<path d="M486.35 376.57L488.75 374.17L491.15 376.57L488.75 378.97Z" fill="#000"/>
<rect x="369.80" y="323.41" width="4.40" height="4.40" fill="#000"/>
<rect x="428.30" y="411.58" width="4.40" height="4.40" fill="#000"/>
<rect x="486.55" y="387.07" width="4.40" height="4.40" fill="#000"/>
<circle cx="313.25" cy="273.75" r="2.20" fill="#000"/>
<circle cx="372.0" cy="386.44" r="2.20" fill="#000"/>
<circle cx="430.5" cy="353.86" r="2.20" fill="#000"/>
<circle cx="488.75" cy="374.03" r="2.20" fill="#000"/>
<circle cx="313.25" cy="273.75" r="1.55" fill="#999" stroke="#111" stroke-width="1.2"/>
<circle cx="372.0" cy="358.94" r="1.55" fill="#999" stroke="#111" stroke-width="1.2"/>
<circle cx="430.5" cy="367.6" r="1.55" fill="#999" stroke="#111" stroke-width="1.2"/>
<circle cx="488.75" cy="400.04" r="1.55" fill="#999" stroke="#111" stroke-width="1.2"/>
</g>
</svg>
</body></html>
